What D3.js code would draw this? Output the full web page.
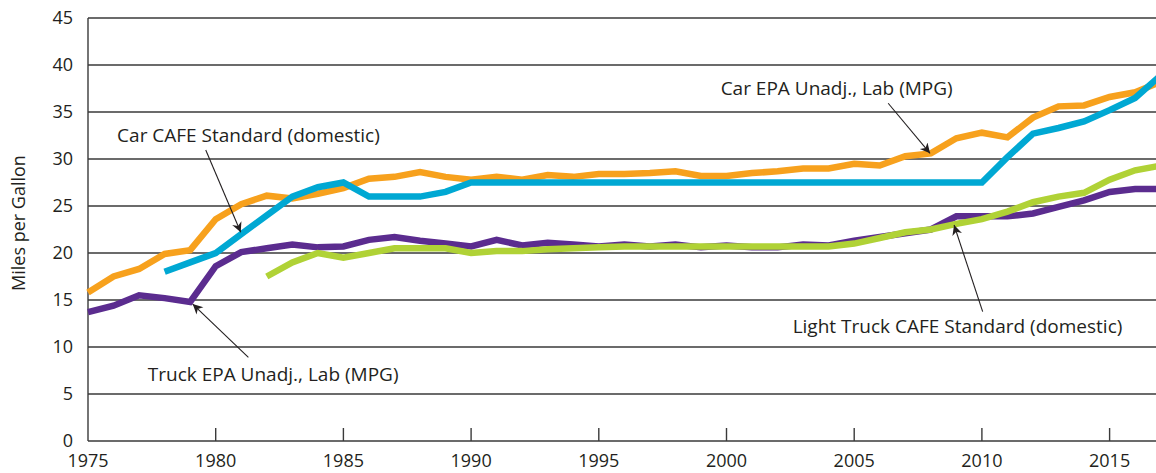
<!DOCTYPE html>
<html><head><meta charset="utf-8">
<script src="https://cdn.jsdelivr.net/npm/d3@7"></script>
<style>html,body{margin:0;padding:0;background:#fff;overflow:hidden}svg{display:block}</style>
</head><body>
<svg id="c" width="1156" height="473"></svg>
<script>
const years = d3.range(1975, 2018);
const carEPA = [15.8,17.5,18.3,19.9,20.3,23.6,25.2,26.1,25.8,26.3,26.9,27.9,28.1,28.6,28.1,27.8,28.1,27.8,28.3,28.1,28.4,28.4,28.5,28.7,28.2,28.2,28.5,28.7,29.0,29.0,29.5,29.3,30.3,30.6,32.2,32.8,32.3,34.4,35.6,35.7,36.6,37.1,38.2];
const carCAFEYears = d3.range(1978, 2018);
const carCAFE = [18.0,19.0,20.0,22.0,24.0,26.0,27.0,27.5,26.0,26.0,26.0,26.5,27.5,27.5,27.5,27.5,27.5,27.5,27.5,27.5,27.5,27.5,27.5,27.5,27.5,27.5,27.5,27.5,27.5,27.5,27.5,27.5,27.5,30.2,32.7,33.3,34.0,35.2,36.5,38.9];
const truckEPA = [13.7,14.4,15.5,15.2,14.8,18.6,20.1,20.5,20.9,20.6,20.7,21.4,21.7,21.3,21.0,20.7,21.4,20.8,21.1,20.9,20.7,20.9,20.7,20.9,20.6,20.8,20.6,20.6,20.9,20.8,21.3,21.7,22.1,22.5,23.9,23.9,23.9,24.2,24.9,25.6,26.5,26.8,26.8];
const truckCAFEYears = d3.range(1982, 2018);
const truckCAFE = [17.5,19.0,20.0,19.5,20.0,20.5,20.5,20.5,20.0,20.2,20.2,20.4,20.5,20.6,20.7,20.7,20.7,20.7,20.7,20.7,20.7,20.7,20.7,21.0,21.6,22.2,22.5,23.1,23.6,24.4,25.4,26.0,26.4,27.8,28.8,29.3];
const yTicks = [0,5,10,15,20,25,30,35,40,45];
const xTicks = [1975,1980,1985,1990,1995,2000,2005,2010,2015];

const series = [
  {name:"truckEPA", xs: years, ys: truckEPA, color:"#5b2c8f"},
  {name:"truckCAFE", xs: truckCAFEYears, ys: truckCAFE, color:"#b0d236"},
  {name:"carEPA", xs: years, ys: carEPA, color:"#f7a11d"},
  {name:"carCAFE", xs: carCAFEYears, ys: carCAFE, color:"#00a8d3"}
];

const annotations = [
  {text:"Car CAFE Standard (domestic)", tx:1976.14, ty:32.55, x1:1979.61, y1:30.96, x2:1980.98, y2:22.2},
  {text:"Car EPA Unadj., Lab (MPG)", tx:1999.77, ty:37.55, x1:2006.33, y1:35.93, x2:2007.97, y2:30.6},
  {text:"Light Truck CAFE Standard (domestic)", tx:2002.59, ty:12.16, x1:2010.03, y1:13.76, x2:2008.91, y2:22.98},
  {text:"Truck EPA Unadj., Lab (MPG)", tx:1977.34, ty:7.13, x1:1981.28, y1:8.9, x2:1979.1, y2:14.57}
];

const svg = d3.select("#c");
const font = "'Open Sans', 'Noto Sans', sans-serif";
const x = d3.scaleLinear().domain([1975, 2017]).range([88, 88 + 42*25.54]);
const y = d3.scaleLinear().domain([0, 45]).range([441, 18]);

svg.append("g").selectAll("line").data(yTicks).join("line")
  .attr("x1", 88).attr("x2", 1156)
  .attr("y1", d => y(d)).attr("y2", d => y(d))
  .attr("stroke", "#3a3a3a").attr("stroke-width", 1.4);
svg.append("line").attr("x1", 88).attr("x2", 88).attr("y1", y(45)).attr("y2", y(0))
  .attr("stroke", "#3a3a3a").attr("stroke-width", 1.4);
svg.append("g").selectAll("line").data(xTicks.filter(d => d > 1975)).join("line")
  .attr("x1", d => x(d)).attr("x2", d => x(d))
  .attr("y1", y(0)).attr("y2", y(0) - 13)
  .attr("stroke", "#3a3a3a").attr("stroke-width", 1.4);
svg.append("g").selectAll("text").data(yTicks).join("text")
  .attr("x", 73).attr("y", d => y(d)).attr("dy", "0.35em")
  .attr("text-anchor", "end").attr("font-family", font).attr("font-size", 18)
  .attr("fill", "#231f20").text(d => d);
svg.append("g").selectAll("text").data(xTicks).join("text")
  .attr("x", d => x(d)).attr("y", 461).attr("dy", "0.35em")
  .attr("text-anchor", "middle").attr("font-family", font).attr("font-size", 18)
  .attr("fill", "#231f20").text(d => d);
svg.append("text").attr("transform", "translate(19,223) rotate(-90)")
  .attr("text-anchor", "middle").attr("dy", "0.35em")
  .attr("font-family", font).attr("font-size", 18).attr("fill", "#231f20")
  .text("Miles per Gallon");

const line = d3.line().x(d => x(d[0])).y(d => y(d[1]));
svg.append("g").selectAll("path").data(series).join("path")
  .attr("d", s => line(s.xs.map((v, i) => [v, s.ys[i]])))
  .attr("fill", "none").attr("stroke", s => s.color)
  .attr("stroke-width", 6.5).attr("stroke-linejoin", "miter").attr("stroke-linecap", "butt");

const defs = svg.append("defs");
defs.append("marker").attr("id", "ah").attr("viewBox", "0 0 10 10")
  .attr("refX", 10).attr("refY", 5).attr("markerWidth", 13).attr("markerHeight", 10)
  .attr("markerUnits", "userSpaceOnUse").attr("orient", "auto")
  .append("path").attr("d", "M0,0 L10,5 L0,10 L3,5 Z").attr("fill", "#231f20");
svg.append("g").selectAll("line").data(annotations).join("line")
  .attr("x1", d => x(d.x1)).attr("y1", d => y(d.y1))
  .attr("x2", d => x(d.x2)).attr("y2", d => y(d.y2))
  .attr("stroke", "#231f20").attr("stroke-width", 1.1).attr("marker-end", "url(#ah)");
svg.append("g").selectAll("text").data(annotations).join("text")
  .attr("x", d => x(d.tx)).attr("y", d => y(d.ty)).attr("dy", "0.35em")
  .attr("font-family", font).attr("font-size", 19).attr("fill", "#231f20")
  .text(d => d.text);
</script>
</body></html>
